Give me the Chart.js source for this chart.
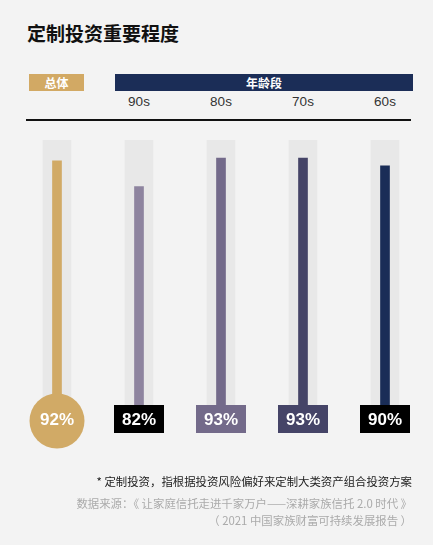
<!DOCTYPE html>
<html>
<head>
<meta charset="utf-8">
<script src="https://cdn.jsdelivr.net/npm/chart.js@4.4.1/dist/chart.umd.min.js"></script>
<style>
    html, body { margin: 0; padding: 0; background: #fff; }
    body { width: 436px; height: 551px; position: relative; overflow: hidden; font-family: "Noto Sans CJK SC", "Liberation Sans", sans-serif; }
    .panel { position: absolute; left: 0; top: 0; width: 433px; height: 545px; background: #f3f3f3; }
    .title { position: absolute; left: 27px; top: 20px; font-size: 19px; font-weight: 700; color: #111; line-height: 26px; }
    .tag { position: absolute; top: 74px; height: 17px; line-height: 17px; color: #fff; font-size: 12px; font-weight: 700; text-align: center; }
    .age { position: absolute; top: 94px; width: 60px; margin-left: -30px; text-align: center; font-family: "Liberation Sans", sans-serif; font-size: 13.5px; color: #333; }
    .rule { position: absolute; left: 26px; top: 119px; width: 385px; height: 1.5px; background: #111; }
    .note { position: absolute; right: 24px; font-size: 11.4px; line-height: 15px; text-align: right; white-space: nowrap; }
    #wrap { position: absolute; left: 0; top: 0; width: 436px; height: 551px; }
</style>
</head>
<body>
<div class="panel"></div>
<div class="title">定制投资重要程度</div>
<div class="tag" style="left:29px;width:55px;background:#d2a964;">总体</div>
<div class="tag" style="left:115px;width:298px;background:#1b2d57;">年龄段</div>
<div id="ages"></div>
<div class="rule"></div>
<div id="wrap"><canvas id="chart"></canvas></div>
<div class="note" style="top:474px;color:#222;">* 定制投资，指根据投资风险偏好来定制大类资产组合投资方案</div>
<div class="note" style="top:496px;color:#aaa;">数据来源：《 让家庭信托走进千家万户——深耕家族信托 2.0 时代 》</div>
<div class="note" style="top:513px;color:#aaa;">（ 2021 中国家族财富可持续发展报告 ）</div>
<script>
const categories = ['总体', '90s', '80s', '70s', '60s'];
const importance = [92, 82, 93, 93, 90];
const fullScale = [100, 100, 100, 100, 100];
const barColors = ['#d1aa66', '#8e849f', '#736a8a', '#454467', '#1a2d57'];
const labelColors = ['#d1aa66', '#000000', '#736a8a', '#454467', '#000000'];

const valueLabels = {
    id: 'valueLabels',
    afterDatasetsDraw(chart) {
        const ctx = chart.ctx;
        const bars = chart.getDatasetMeta(1).data;
        ctx.save();
        bars.forEach((bar, i) => {
            ctx.fillStyle = labelColors[i];
            if (i === 0) {
                ctx.beginPath();
                ctx.arc(bar.x, 421, 27.5, 0, Math.PI * 2);
                ctx.fill();
            } else {
                ctx.fillRect(bar.x - 25, 405, 50, 28);
            }
            ctx.fillStyle = '#fff';
            ctx.font = 'bold 17px "Liberation Sans", Arial, sans-serif';
            ctx.textAlign = 'center';
            ctx.textBaseline = 'middle';
            ctx.fillText(importance[i] + '%', bar.x, 420);
        });
        ctx.restore();
    }
};

const chart = new Chart(document.getElementById('chart'), {
    type: 'bar',
    data: {
        labels: categories,
        datasets: [
            { data: fullScale, backgroundColor: '#e8e8e8', barThickness: 28, grouped: false, base: -8, order: 2 },
            { data: importance, backgroundColor: barColors, barThickness: 9, grouped: false, base: -8, order: 1 }
        ]
    },
    options: {
        responsive: true,
        maintainAspectRatio: false,
        animation: false,
        layout: { padding: { left: 16, right: 10, top: 140, bottom: 131 } },
        plugins: { legend: { display: false }, tooltip: { enabled: false } },
        scales: {
            x: { display: false },
            y: { display: false, min: -8, max: 100 }
        }
    },
    plugins: [valueLabels]
});

// age headers sit over the bar centres
const xScale = chart.scales.x;
document.getElementById('ages').innerHTML = categories.slice(1)
    .map((c, i) => `<div class="age" style="left:${xScale.getPixelForValue(i + 1)}px">${c}</div>`).join('');
</script>
</body>
</html>
